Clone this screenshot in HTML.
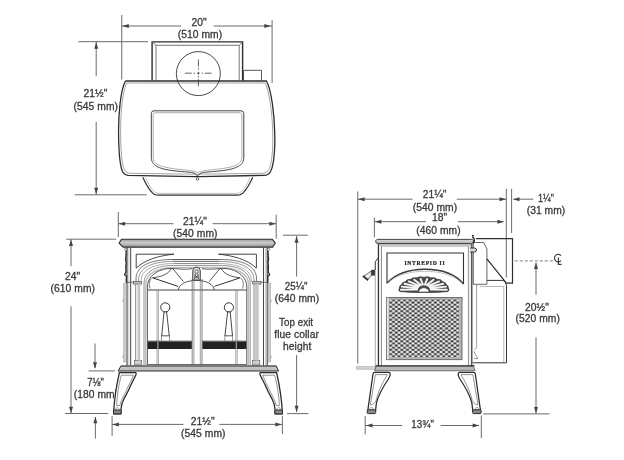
<!DOCTYPE html>
<html><head><meta charset="utf-8"><style>
html,body{margin:0;padding:0;background:#fff;}
svg{display:block;will-change:transform;}
text{font-family:"Liberation Sans",sans-serif;}
</style></head><body>
<svg width="624" height="460" viewBox="0 0 624 460">
<rect width="624" height="460" fill="#fff"/>
<line x1="121.75" y1="15" x2="121.75" y2="79.5" stroke="#5a5a5a" stroke-width="0.9" />
<line x1="272.1" y1="20" x2="272.1" y2="83" stroke="#5a5a5a" stroke-width="0.9" />
<line x1="121.75" y1="26" x2="181" y2="26" stroke="#5a5a5a" stroke-width="0.9" />
<line x1="213.75" y1="26" x2="272.1" y2="26" stroke="#5a5a5a" stroke-width="0.9" />
<polygon points="122.30,26.00 128.80,24.00 128.80,28.00" fill="#444"/>
<polygon points="270.80,26.00 264.30,24.00 264.30,28.00" fill="#444"/>
<text transform="translate(199,26) scale(1.0250,1)" text-anchor="middle" font-size="10.05" letter-spacing="0.05" fill="#3a3a3a" stroke="#3a3a3a" stroke-width="0.3" >20"</text>
<text transform="translate(200,37.8) scale(1.0250,1)" text-anchor="middle" font-size="10.05" letter-spacing="0.05" fill="#3a3a3a" stroke="#3a3a3a" stroke-width="0.3" >(510 mm)</text>
<line x1="78.5" y1="41.7" x2="148" y2="41.7" stroke="#5a5a5a" stroke-width="0.9" />
<line x1="74.8" y1="194.8" x2="146.8" y2="194.8" stroke="#5a5a5a" stroke-width="0.9" />
<line x1="96.2" y1="42" x2="96.2" y2="76.2" stroke="#5a5a5a" stroke-width="0.9" />
<line x1="96.2" y1="122" x2="96.2" y2="194.5" stroke="#5a5a5a" stroke-width="0.9" />
<polygon points="96.20,42.20 94.20,48.70 98.20,48.70" fill="#444"/>
<polygon points="96.20,194.30 94.20,187.80 98.20,187.80" fill="#444"/>
<text transform="translate(95.5,97.2) scale(1.0250,1)" text-anchor="middle" font-size="10.05" letter-spacing="0.05" fill="#3a3a3a" stroke="#3a3a3a" stroke-width="0.3" >21½"</text>
<text transform="translate(95.8,109.6) scale(1.0250,1)" text-anchor="middle" font-size="10.05" letter-spacing="0.05" fill="#3a3a3a" stroke="#3a3a3a" stroke-width="0.3" >(545 mm)</text>
<path d="M152.1,80.5 V41.9 H242.6 V80.5" stroke="#2e2e2e" stroke-width="1.4" fill="none" />
<path d="M152.1,41.9 L156,45.3 V80.5 M242.6,41.9 L239.2,45.3 V80.5 M156,45.3 H239.2" stroke="#666" stroke-width="0.9" fill="none" />
<circle cx="198.35" cy="73.6" r="22" fill="none" stroke="#333" stroke-width="0.9"/>
<path d="M185,73.2 H191.8 M193.6,73.2 H195.1 M197.1,73.2 H199.7 M201.6,73.2 H203.1 M204.9,73.2 H211.6" stroke="#444" stroke-width="0.85" fill="none" />
<path d="M198.4,59.5 V66.6 M198.4,68.2 V69.6 M198.4,71.9 V74.5 M198.4,76.1 V77.5 M198.4,79.2 V86.2" stroke="#444" stroke-width="0.85" fill="none" />
<path d="M243.5,80.5 V70.3 H261.5 V80.5" stroke="#444" stroke-width="0.9" fill="none" />
<path d="M125.4,81 H266.4 C271.5,90 274.5,115 274.8,135 C275,155 273.2,167 270.2,172 Q268.5,175 265,175.3 L200,176.6 M125.4,81 C120.5,90 118.3,115 118.6,135 C118.8,155 120.2,167 122.8,172 Q124.5,175 128,175.3 L195,176.6 L200,176.6" stroke="#2e2e2e" stroke-width="1.3" fill="none" />
<path d="M126.6,83 H265.2 C269.5,92 272.5,115 272.8,135 C273,154 271.4,165 268.6,169.8 Q267,173 263.5,173.3 L200,174.2 M126.6,83 C122.5,92 120.3,115 120.6,135 C120.8,154 122,165 124.6,169.8 Q126.2,173 129.5,173.3 L195,174.2 L200,174.2" stroke="#666" stroke-width="0.6" fill="none" />
<path d="M154,110.8 H241 Q243.8,110.8 243.8,113.6 V157 C243.8,165.5 237,168.8 221,170.8 C210,172 204,172 201,173 L197.5,175.8 L194,173 C191,172 185,172 174,170.8 C158,168.8 151.3,165.5 151.3,157 V113.6 Q151.3,110.8 154,110.8 Z" stroke="#444" stroke-width="1.0" fill="none" />
<path d="M155.6,112.7 H239.4 Q241.9,112.7 241.9,115.2 V157 C241.9,164 235.5,166.8 220.5,168.8 C209,170.2 202,170.2 197.5,172.6 C193,170.2 186,170.2 174.5,168.8 C159.5,166.8 153.2,164 153.2,157 V115.2 Q153.2,112.7 155.6,112.7 Z" stroke="#777" stroke-width="0.6" fill="none" />
<circle cx="197.5" cy="179" r="1.3" fill="none" stroke="#444" stroke-width="0.8"/>
<path d="M142.8,177.2 C145,182 148,188 151.2,191.5 Q153.8,195.2 158.5,195.2 H237 Q241.7,195.2 244.3,191.5 C247.5,188 250.5,182 252.8,177.2" stroke="#2e2e2e" stroke-width="1.2" fill="none" />
<path d="M145.6,177.8 C147.6,182.5 150.2,187.5 153,190.6 Q155.3,193.4 159,193.4 H236.5 Q240.2,193.4 242.5,190.6 C245.3,187.5 247.9,182.5 249.9,177.8" stroke="#999" stroke-width="0.6" fill="none" />
<line x1="118.3" y1="212" x2="118.3" y2="237" stroke="#5a5a5a" stroke-width="0.9" />
<line x1="276.2" y1="214.6" x2="276.2" y2="238.7" stroke="#5a5a5a" stroke-width="0.9" />
<line x1="118.3" y1="223.7" x2="173.4" y2="223.7" stroke="#5a5a5a" stroke-width="0.9" />
<line x1="212.7" y1="223.7" x2="276.2" y2="223.7" stroke="#5a5a5a" stroke-width="0.9" />
<polygon points="118.60,223.70 125.10,221.70 125.10,225.70" fill="#444"/>
<polygon points="275.90,223.70 269.40,221.70 269.40,225.70" fill="#444"/>
<text transform="translate(195,225.0) scale(1.0250,1)" text-anchor="middle" font-size="10.05" letter-spacing="0.05" fill="#3a3a3a" stroke="#3a3a3a" stroke-width="0.3" >21¼"</text>
<text transform="translate(195.3,236.9) scale(1.0250,1)" text-anchor="middle" font-size="10.05" letter-spacing="0.05" fill="#3a3a3a" stroke="#3a3a3a" stroke-width="0.3" >(540 mm)</text>
<line x1="66.2" y1="239.2" x2="116" y2="239.2" stroke="#5a5a5a" stroke-width="0.9" />
<line x1="65.2" y1="413.5" x2="108.3" y2="413.5" stroke="#5a5a5a" stroke-width="0.9" />
<line x1="71" y1="239.5" x2="71" y2="266.2" stroke="#5a5a5a" stroke-width="0.9" />
<line x1="71" y1="306.3" x2="71" y2="413.2" stroke="#5a5a5a" stroke-width="0.9" />
<polygon points="71.00,239.60 69.00,246.10 73.00,246.10" fill="#444"/>
<polygon points="71.00,413.20 69.00,406.70 73.00,406.70" fill="#444"/>
<text transform="translate(72.5,280.3) scale(1.0250,1)" text-anchor="middle" font-size="10.05" letter-spacing="0.05" fill="#3a3a3a" stroke="#3a3a3a" stroke-width="0.3" >24"</text>
<text transform="translate(72.8,292.0) scale(1.0250,1)" text-anchor="middle" font-size="10.05" letter-spacing="0.05" fill="#3a3a3a" stroke="#3a3a3a" stroke-width="0.3" >(610 mm)</text>
<line x1="88.7" y1="370.9" x2="114.9" y2="370.9" stroke="#5a5a5a" stroke-width="0.9" />
<line x1="95" y1="343.5" x2="95" y2="368" stroke="#5a5a5a" stroke-width="0.9" />
<polygon points="95.00,368.80 93.00,362.30 97.00,362.30" fill="#444"/>
<line x1="95.4" y1="417" x2="95.4" y2="438.5" stroke="#5a5a5a" stroke-width="0.9" />
<polygon points="95.40,416.80 93.40,423.30 97.40,423.30" fill="#444"/>
<text transform="translate(95.6,385.8) scale(0.9430,1)" text-anchor="middle" font-size="10.05" letter-spacing="0.05" fill="#3a3a3a" stroke="#3a3a3a" stroke-width="0.3" >7⅛"</text>
<text transform="translate(96,397.8) scale(1.0250,1)" text-anchor="middle" font-size="10.05" letter-spacing="0.05" fill="#3a3a3a" stroke="#3a3a3a" stroke-width="0.3" >(180 mm)</text>
<line x1="112.1" y1="416" x2="112.1" y2="436" stroke="#5a5a5a" stroke-width="0.9" />
<line x1="282.4" y1="415.8" x2="282.4" y2="434" stroke="#5a5a5a" stroke-width="0.9" />
<line x1="112.1" y1="424.4" x2="183.5" y2="424.4" stroke="#5a5a5a" stroke-width="0.9" />
<line x1="219.4" y1="424.4" x2="282.1" y2="424.4" stroke="#5a5a5a" stroke-width="0.9" />
<polygon points="112.40,424.40 118.90,422.40 118.90,426.40" fill="#444"/>
<polygon points="281.80,424.40 275.30,422.40 275.30,426.40" fill="#444"/>
<text transform="translate(202.7,424.9) scale(1.0250,1)" text-anchor="middle" font-size="10.05" letter-spacing="0.05" fill="#3a3a3a" stroke="#3a3a3a" stroke-width="0.3" >21½"</text>
<text transform="translate(203.3,436.7) scale(1.0250,1)" text-anchor="middle" font-size="10.05" letter-spacing="0.05" fill="#3a3a3a" stroke="#3a3a3a" stroke-width="0.3" >(545 mm)</text>
<line x1="283" y1="235.2" x2="307.8" y2="235.2" stroke="#5a5a5a" stroke-width="0.9" />
<line x1="287" y1="413.6" x2="308.5" y2="413.6" stroke="#5a5a5a" stroke-width="0.9" />
<line x1="296.6" y1="236" x2="296.6" y2="276.5" stroke="#5a5a5a" stroke-width="0.9" />
<line x1="296.6" y1="355" x2="296.6" y2="412" stroke="#5a5a5a" stroke-width="0.9" />
<polygon points="296.60,236.20 294.60,242.70 298.60,242.70" fill="#444"/>
<polygon points="296.60,412.20 294.60,405.70 298.60,405.70" fill="#444"/>
<text transform="translate(296.2,290.0) scale(0.9737,1)" text-anchor="middle" font-size="10.05" letter-spacing="0.05" fill="#3a3a3a" stroke="#3a3a3a" stroke-width="0.3" >25¼"</text>
<text transform="translate(296.9,301.9) scale(1.0250,1)" text-anchor="middle" font-size="10.05" letter-spacing="0.05" fill="#3a3a3a" stroke="#3a3a3a" stroke-width="0.3" >(640 mm)</text>
<text transform="translate(296.1,326.0) scale(0.9737,1)" text-anchor="middle" font-size="10.05" letter-spacing="0.05" fill="#3a3a3a" stroke="#3a3a3a" stroke-width="0.3" >Top exit</text>
<text transform="translate(296.6,337.5) scale(1.0250,1)" text-anchor="middle" font-size="10.05" letter-spacing="0.05" fill="#3a3a3a" stroke="#3a3a3a" stroke-width="0.3" >flue collar</text>
<text transform="translate(297.2,350.0) scale(1.0250,1)" text-anchor="middle" font-size="10.05" letter-spacing="0.05" fill="#3a3a3a" stroke="#3a3a3a" stroke-width="0.3" >height</text>
<g><path d="M136.2,254.2 H174 M136.2,254.2 V268.2 M174,254.2 C160,255.5 145,259.5 136.4,268" stroke="#333" stroke-width="0.9" fill="none"/>
<path d="M136.0,282 V279 C136.0,266 150,259.5 172,259.5 H220.60000000000002" stroke="#555" stroke-width="0.8" fill="none"/>
<path d="M138.6,282 V279.5 C138.6,268 152,261.4 173,261.4 H219.60000000000002" stroke="#666" stroke-width="0.7" fill="none"/>
<path d="M141.2,282 V280 C141.2,270 154,263.5 174,263.5 H218.60000000000002" stroke="#777" stroke-width="0.6" fill="none"/>
<path d="M152.5,277.8 C161,277 168,274.5 171.8,268.3" stroke="#444" stroke-width="0.9" fill="none"/>
<path d="M152.5,277.8 L178.2,286.4" stroke="#333" stroke-width="1.0" fill="none"/>
<path d="M172.3,268 L183.4,281.6" stroke="#444" stroke-width="0.9" fill="none"/>
<path d="M178.3,290 C179,284.5 186,280.4 196.3,280.4" stroke="#444" stroke-width="0.9" fill="none"/>
<path d="M151.6,278.2 C149,281 148.6,285.5 150.3,288.5" stroke="#555" stroke-width="0.8" fill="none"/></g>
<g transform="translate(392.6,0) scale(-1,1)"><path d="M136.2,254.2 H174 M136.2,254.2 V268.2 M174,254.2 C160,255.5 145,259.5 136.4,268" stroke="#333" stroke-width="0.9" fill="none"/>
<path d="M136.0,282 V279 C136.0,266 150,259.5 172,259.5 H220.60000000000002" stroke="#555" stroke-width="0.8" fill="none"/>
<path d="M138.6,282 V279.5 C138.6,268 152,261.4 173,261.4 H219.60000000000002" stroke="#666" stroke-width="0.7" fill="none"/>
<path d="M141.2,282 V280 C141.2,270 154,263.5 174,263.5 H218.60000000000002" stroke="#777" stroke-width="0.6" fill="none"/>
<path d="M152.5,277.8 C161,277 168,274.5 171.8,268.3" stroke="#444" stroke-width="0.9" fill="none"/>
<path d="M152.5,277.8 L178.2,286.4" stroke="#333" stroke-width="1.0" fill="none"/>
<path d="M172.3,268 L183.4,281.6" stroke="#444" stroke-width="0.9" fill="none"/>
<path d="M178.3,290 C179,284.5 186,280.4 196.3,280.4" stroke="#444" stroke-width="0.9" fill="none"/>
<path d="M151.6,278.2 C149,281 148.6,285.5 150.3,288.5" stroke="#555" stroke-width="0.8" fill="none"/></g>
<g><path d="M144.0,365 V284 C144.0,271 156,265.4 175,265.4 H197.1" stroke="#777" stroke-width="0.8" fill="none"/>
<path d="M145.7,365 V285 C145.7,273 158,267.3 176,267.3 H197.1" stroke="#bbb" stroke-width="1.3" fill="none"/>
<path d="M147.4,365 V287 C147.4,277 156,270 168,268.5 C178,268.5 186,270 192.5,268.6" stroke="#444" stroke-width="0.9" fill="none"/>
<rect x="133.3" y="281.4" width="8.2" height="2.7" fill="#bdbdbd" stroke="#444" stroke-width="0.6"/>
<rect x="134.4" y="360.5" width="7.2" height="4.4" fill="#cfcfcf" stroke="#555" stroke-width="0.6"/>
<line x1="147.7" y1="290" x2="197.1" y2="290" stroke="#444" stroke-width="1.0"/>
<line x1="157.0" y1="290" x2="157.0" y2="364.5" stroke="#888" stroke-width="0.7"/>
<line x1="158.4" y1="290" x2="158.4" y2="364.5" stroke="#888" stroke-width="0.7"/>
<line x1="192.2" y1="279" x2="192.2" y2="364.5" stroke="#666" stroke-width="0.8"/>
<line x1="193.9" y1="279" x2="193.9" y2="364.5" stroke="#777" stroke-width="0.7"/>
<rect x="147.8" y="341.3" width="44.0" height="7.7" fill="#222"/>
<line x1="157.9" y1="341.2" x2="157.9" y2="349" stroke="#bbb" stroke-width="1.0"/>
<line x1="147.7" y1="340.8" x2="192.5" y2="340.8" stroke="#555" stroke-width="0.5"/>
<circle cx="165.3" cy="307.4" r="4.6" fill="#fff" stroke="#333" stroke-width="1.0"/>
<path d="M164,312 L166.6,312 L169.3,336 L161.7,336 Z" stroke="#333" stroke-width="0.9" fill="#fff"/>
<rect x="161.7" y="336" width="7.6" height="5" fill="#fff" stroke="#555" stroke-width="0.6"/>
<line x1="147.7" y1="364.5" x2="197.1" y2="364.5" stroke="#444" stroke-width="0.8"/></g>
<g transform="translate(394.2,0) scale(-1,1)"><path d="M144.0,365 V284 C144.0,271 156,265.4 175,265.4 H197.1" stroke="#777" stroke-width="0.8" fill="none"/>
<path d="M145.7,365 V285 C145.7,273 158,267.3 176,267.3 H197.1" stroke="#bbb" stroke-width="1.3" fill="none"/>
<path d="M147.4,365 V287 C147.4,277 156,270 168,268.5 C178,268.5 186,270 192.5,268.6" stroke="#444" stroke-width="0.9" fill="none"/>
<rect x="133.3" y="281.4" width="8.2" height="2.7" fill="#bdbdbd" stroke="#444" stroke-width="0.6"/>
<rect x="134.4" y="360.5" width="7.2" height="4.4" fill="#cfcfcf" stroke="#555" stroke-width="0.6"/>
<line x1="147.7" y1="290" x2="197.1" y2="290" stroke="#444" stroke-width="1.0"/>
<line x1="157.0" y1="290" x2="157.0" y2="364.5" stroke="#888" stroke-width="0.7"/>
<line x1="158.4" y1="290" x2="158.4" y2="364.5" stroke="#888" stroke-width="0.7"/>
<line x1="192.2" y1="279" x2="192.2" y2="364.5" stroke="#666" stroke-width="0.8"/>
<line x1="193.9" y1="279" x2="193.9" y2="364.5" stroke="#777" stroke-width="0.7"/>
<rect x="147.8" y="341.3" width="44.0" height="7.7" fill="#222"/>
<line x1="157.9" y1="341.2" x2="157.9" y2="349" stroke="#bbb" stroke-width="1.0"/>
<line x1="147.7" y1="340.8" x2="192.5" y2="340.8" stroke="#555" stroke-width="0.5"/>
<circle cx="165.3" cy="307.4" r="4.6" fill="#fff" stroke="#333" stroke-width="1.0"/>
<path d="M164,312 L166.6,312 L169.3,336 L161.7,336 Z" stroke="#333" stroke-width="0.9" fill="#fff"/>
<rect x="161.7" y="336" width="7.6" height="5" fill="#fff" stroke="#555" stroke-width="0.6"/>
<line x1="147.7" y1="364.5" x2="197.1" y2="364.5" stroke="#444" stroke-width="0.8"/></g>
<rect x="137.5" y="284.2" width="2.70" height="76.3" fill="#c6c6c6"/>
<line x1="135.7" y1="284.2" x2="135.7" y2="360.5" stroke="#7a7a7a" stroke-width="0.9"/>
<rect x="255.1" y="284.2" width="3.60" height="76.3" fill="#c6c6c6"/>
<line x1="254.0" y1="284.2" x2="254.0" y2="360.5" stroke="#7a7a7a" stroke-width="0.9"/>
<g><line x1="127.0" y1="247.5" x2="127.0" y2="365.5" stroke="#3a3a3a" stroke-width="1.1"/>
<line x1="128.8" y1="247.5" x2="128.8" y2="365.5" stroke="#aaa" stroke-width="0.6"/>
<line x1="130.7" y1="247.5" x2="130.7" y2="365.5" stroke="#444" stroke-width="1.0"/>
<g transform="translate(2.0,0)">
<path d="M124.6,250.5 C123.2,253 124.6,255 123.8,257.5 C123,260 124.8,262 124,265 C123.3,268 124.5,270 123.6,272.5 L122.6,274.8 L124.6,276.5 C124,279 124.2,281 124.5,283" stroke="#2a2a2a" stroke-width="1.3" fill="none"/>
</g>
<circle cx="125.8" cy="249.4" r="1.2" fill="#fff" stroke="#444" stroke-width="0.7"/>
<rect x="123.4" y="283" width="2.8" height="79" fill="#cdcdcd" stroke="#999" stroke-width="0.4"/>
<path d="M123.4,299.5 q-1.8,1 0,2.2 M123.4,355.5 q-1.8,1 0,2.2" stroke="#666" stroke-width="0.6" fill="none"/>
<line x1="127.0" y1="282.3" x2="133.3" y2="282.3" stroke="#555" stroke-width="0.8"/></g>
<g transform="translate(394.2,0) scale(-1,1)"><line x1="127.0" y1="247.5" x2="127.0" y2="365.5" stroke="#3a3a3a" stroke-width="1.1"/>
<line x1="128.8" y1="247.5" x2="128.8" y2="365.5" stroke="#aaa" stroke-width="0.6"/>
<line x1="130.7" y1="247.5" x2="130.7" y2="365.5" stroke="#444" stroke-width="1.0"/>
<g transform="translate(2.0,0)">
<path d="M124.6,250.5 C123.2,253 124.6,255 123.8,257.5 C123,260 124.8,262 124,265 C123.3,268 124.5,270 123.6,272.5 L122.6,274.8 L124.6,276.5 C124,279 124.2,281 124.5,283" stroke="#2a2a2a" stroke-width="1.3" fill="none"/>
</g>
<circle cx="125.8" cy="249.4" r="1.2" fill="#fff" stroke="#444" stroke-width="0.7"/>
<rect x="123.4" y="283" width="2.8" height="79" fill="#cdcdcd" stroke="#999" stroke-width="0.4"/>
<path d="M123.4,299.5 q-1.8,1 0,2.2 M123.4,355.5 q-1.8,1 0,2.2" stroke="#666" stroke-width="0.6" fill="none"/>
<line x1="127.0" y1="282.3" x2="133.3" y2="282.3" stroke="#555" stroke-width="0.8"/></g>
<defs><linearGradient id="slabg" x1="0" y1="0" x2="0" y2="1"><stop offset="0" stop-color="#9a9a9a"/><stop offset="0.45" stop-color="#cdcdcd"/><stop offset="0.6" stop-color="#bababa"/><stop offset="1" stop-color="#989898"/></linearGradient></defs>
<path d="M121.4,239.2 H272.4 L275.3,243.1 L272.6,247.1 H123.1 L119.1,243.1 Z" stroke="#2e2e2e" stroke-width="1.1" fill="url(#slabg)" />
<path d="M192.7,280 V271 A3.8,3.9 0 0 1 200.3,271 V280 Z" fill="#d4d4d4" stroke="#3a3a3a" stroke-width="0.9"/>
<circle cx="196.5" cy="271.6" r="1.6" fill="#f2f2f2" stroke="#444" stroke-width="0.7"/>
<path d="M195.2,273.5 L194.6,279 M197.8,273.5 L198.4,279 M195.5,275.5 L197.5,278 M197.5,275.5 L195.5,278" stroke="#333" stroke-width="0.8" fill="none"/>
<defs><linearGradient id="baseg" x1="0" y1="0" x2="0" y2="1"><stop offset="0" stop-color="#8a8a8a"/><stop offset="0.3" stop-color="#c4c4c4"/><stop offset="1" stop-color="#bcbcbc"/></linearGradient></defs>
<path d="M121.0,365.9 H276.2 L278.6,371 H118.0 Z" stroke="#2e2e2e" stroke-width="1.0" fill="url(#baseg)" />
<g><path d="M119.4,372.6 H135.6 Q136.4,372.8 136.1,374.2 C133.8,379.5 132.5,381.5 130.4,386 C128,392 125.5,396 123.9,399 C122.3,402 121.3,405.5 121.0,409 L121,413.8 H113.6 L113.8,410 C114.5,398 116.6,385 119.4,372.6 Z" stroke="#2a2a2a" stroke-width="1.3" fill="#fff"/><path d="M121.4,375.2 H133.3 C131.5,380 130,383 128.4,386 C126,391.5 123.8,395.5 122.3,398.5 C121,401 120.2,403.5 119.8,405.5 H116.6 C117.3,394 119.0,383 121.4,375.2 Z" stroke="#666" stroke-width="0.7" fill="none"/><rect x="113.5" y="410.0" width="7.6" height="3.9" rx="1" fill="#8a8a8a" stroke="#2a2a2a" stroke-width="1.0"/><path d="M115.2,410.0 Q117.2,404.5 119.6,410.0" stroke="#666" stroke-width="0.6" fill="none"/></g>
<g transform="translate(396.0,0) scale(-1,1)"><path d="M119.4,372.6 H135.6 Q136.4,372.8 136.1,374.2 C133.8,379.5 132.5,381.5 130.4,386 C128,392 125.5,396 123.9,399 C122.3,402 121.3,405.5 121.0,409 L121,413.8 H113.6 L113.8,410 C114.5,398 116.6,385 119.4,372.6 Z" stroke="#2a2a2a" stroke-width="1.3" fill="#fff"/><path d="M121.4,375.2 H133.3 C131.5,380 130,383 128.4,386 C126,391.5 123.8,395.5 122.3,398.5 C121,401 120.2,403.5 119.8,405.5 H116.6 C117.3,394 119.0,383 121.4,375.2 Z" stroke="#666" stroke-width="0.7" fill="none"/><rect x="113.5" y="410.0" width="7.6" height="3.9" rx="1" fill="#8a8a8a" stroke="#2a2a2a" stroke-width="1.0"/><path d="M115.2,410.0 Q117.2,404.5 119.6,410.0" stroke="#666" stroke-width="0.6" fill="none"/></g>
<line x1="357.8" y1="191.5" x2="357.8" y2="363.5" stroke="#5a5a5a" stroke-width="0.9" />
<path d="M356.4,366.6 H375.4 V369.2 H356.4 Z" stroke="#999" stroke-width="0.6" fill="#d8d8d8" />
<line x1="506.3" y1="188.8" x2="506.3" y2="277.5" stroke="#5a5a5a" stroke-width="0.9" />
<line x1="511.6" y1="188.8" x2="511.6" y2="233" stroke="#5a5a5a" stroke-width="0.9" />
<line x1="357.8" y1="199.2" x2="412.5" y2="199.2" stroke="#5a5a5a" stroke-width="0.9" />
<line x1="456.7" y1="199.2" x2="506.3" y2="199.2" stroke="#5a5a5a" stroke-width="0.9" />
<polygon points="358.10,199.20 364.60,197.20 364.60,201.20" fill="#444"/>
<polygon points="506.00,199.20 499.50,197.20 499.50,201.20" fill="#444"/>
<text transform="translate(434.6,198.0) scale(1.0250,1)" text-anchor="middle" font-size="10.05" letter-spacing="0.05" fill="#3a3a3a" stroke="#3a3a3a" stroke-width="0.3" >21¼"</text>
<text transform="translate(434.9,210.6) scale(1.0250,1)" text-anchor="middle" font-size="10.05" letter-spacing="0.05" fill="#3a3a3a" stroke="#3a3a3a" stroke-width="0.3" >(540 mm)</text>
<line x1="374.4" y1="217.5" x2="374.4" y2="237.2" stroke="#5a5a5a" stroke-width="0.9" />
<line x1="374.6" y1="221.7" x2="426" y2="221.7" stroke="#5a5a5a" stroke-width="0.9" />
<line x1="457.9" y1="221.7" x2="503.5" y2="221.7" stroke="#5a5a5a" stroke-width="0.9" />
<polygon points="374.90,221.70 381.40,219.70 381.40,223.70" fill="#444"/>
<polygon points="503.90,221.70 497.40,219.70 497.40,223.70" fill="#444"/>
<text transform="translate(439.7,220.9) scale(1.0250,1)" text-anchor="middle" font-size="10.05" letter-spacing="0.05" fill="#3a3a3a" stroke="#3a3a3a" stroke-width="0.3" >18"</text>
<text transform="translate(438.5,233.6) scale(1.0250,1)" text-anchor="middle" font-size="10.05" letter-spacing="0.05" fill="#3a3a3a" stroke="#3a3a3a" stroke-width="0.3" >(460 mm)</text>
<line x1="513.5" y1="199.2" x2="533.3" y2="199.2" stroke="#5a5a5a" stroke-width="0.9" />
<polygon points="513.00,199.20 519.50,197.20 519.50,201.20" fill="#444"/>
<text transform="translate(538.0,202.0) scale(0.9020,1)" text-anchor="start" font-size="10.05" letter-spacing="0.05" fill="#3a3a3a" stroke="#3a3a3a" stroke-width="0.3" >1¼"</text>
<text transform="translate(546,213.6) scale(1.0250,1)" text-anchor="middle" font-size="10.05" letter-spacing="0.05" fill="#3a3a3a" stroke="#3a3a3a" stroke-width="0.3" >(31 mm)</text>
<line x1="514.7" y1="260.9" x2="553.3" y2="260.9" stroke="#666" stroke-width="0.8" stroke-dasharray="3.2,1.8"/>
<path d="M561.0,255.6 A3.7,3.8 0 1 0 561.0,260.6" stroke="#3a3a3a" stroke-width="1.15" fill="none"/>
<line x1="558.4" y1="257.4" x2="558.4" y2="264.9" stroke="#3a3a3a" stroke-width="1.15" />
<line x1="557.9" y1="264.4" x2="561.6" y2="264.4" stroke="#3a3a3a" stroke-width="1.2" />
<line x1="536" y1="262.6" x2="536" y2="294.8" stroke="#5a5a5a" stroke-width="0.9" />
<line x1="536" y1="337.4" x2="536" y2="413.6" stroke="#5a5a5a" stroke-width="0.9" />
<polygon points="536.00,262.60 534.00,269.10 538.00,269.10" fill="#444"/>
<polygon points="536.00,413.60 534.00,407.10 538.00,407.10" fill="#444"/>
<text transform="translate(537.0,310.6) scale(1.0250,1)" text-anchor="middle" font-size="10.05" letter-spacing="0.05" fill="#3a3a3a" stroke="#3a3a3a" stroke-width="0.3" >20½"</text>
<text transform="translate(537.7,321.8) scale(1.0250,1)" text-anchor="middle" font-size="10.05" letter-spacing="0.05" fill="#3a3a3a" stroke="#3a3a3a" stroke-width="0.3" >(520 mm)</text>
<line x1="483.3" y1="413.9" x2="549.6" y2="413.9" stroke="#5a5a5a" stroke-width="0.9" />
<line x1="365.2" y1="416" x2="365.2" y2="434.3" stroke="#5a5a5a" stroke-width="0.9" />
<line x1="481.3" y1="415.5" x2="481.3" y2="438" stroke="#5a5a5a" stroke-width="0.9" />
<line x1="365.2" y1="425.5" x2="402.3" y2="425.5" stroke="#5a5a5a" stroke-width="0.9" />
<line x1="440.6" y1="425.5" x2="479" y2="425.5" stroke="#5a5a5a" stroke-width="0.9" />
<polygon points="366.00,425.50 372.50,423.50 372.50,427.50" fill="#444"/>
<polygon points="479.20,425.50 472.70,423.50 472.70,427.50" fill="#444"/>
<text transform="translate(422.6,427.7) scale(0.9737,1)" text-anchor="middle" font-size="10.05" letter-spacing="0.05" fill="#3a3a3a" stroke="#3a3a3a" stroke-width="0.3" >13¾"</text>
<path d="M476.0,238.6 H512.5 V283.2 H506.6" stroke="#2e2e2e" stroke-width="1.2" fill="none" />
<path d="M473.3,284.3 V242.5 H483.7 L486.9,249 V284.3 H473.3" stroke="#555" stroke-width="0.9" fill="none" />
<path d="M486.9,258.8 L506.6,283.4" stroke="#2a2a2a" stroke-width="1.2" fill="none" />
<path d="M486.9,280.4 H503 Q506.3,281.5 506.5,286 V362.8 H472.7" stroke="#333" stroke-width="1.0" fill="none" />
<path d="M480,286.5 H503.8 V362.5" stroke="#888" stroke-width="0.6" fill="none" />
<path d="M476.6,284.5 V347.8 L474.2,349.6" stroke="#888" stroke-width="0.8" fill="none" />
<path d="M473.8,351.3 L477.8,358.6 L473.8,358.6" stroke="#666" stroke-width="0.7" fill="none" />
<line x1="378.4" y1="244" x2="378.4" y2="366" stroke="#2e2e2e" stroke-width="1.2" />
<line x1="380.0" y1="246" x2="380.0" y2="366" stroke="#c4c4c4" stroke-width="0.5" />
<line x1="381.5" y1="246" x2="381.5" y2="366" stroke="#777" stroke-width="0.8" />
<line x1="468.4" y1="246" x2="468.4" y2="366" stroke="#777" stroke-width="0.8" />
<line x1="470.1" y1="246" x2="470.1" y2="366" stroke="#c4c4c4" stroke-width="0.5" />
<line x1="471.8" y1="244" x2="471.8" y2="366" stroke="#2e2e2e" stroke-width="1.2" />
<line x1="378.4" y1="245.0" x2="471.8" y2="245.0" stroke="#666" stroke-width="0.8" />
<line x1="381.5" y1="246.6" x2="468.4" y2="246.6" stroke="#aaa" stroke-width="0.6" />
<path d="M377.5,239.4 H471.5 Q473.8,239.6 473.7,241.4 Q473.5,243.3 471.5,243.5 H377.6 Q375.6,243.3 375.6,241.4 Q375.7,239.6 377.5,239.4 Z" stroke="#333" stroke-width="0.9" fill="#bdbdbd" />
<line x1="376.5" y1="240.8" x2="473" y2="240.8" stroke="#e0e0e0" stroke-width="0.8" />
<path d="M378.2,257.8 L375.3,261.8 V366" stroke="#888" stroke-width="0.7" fill="none" />
<path d="M378.2,257.8 L375.3,261.8 V270" stroke="#444" stroke-width="0.9" fill="none" />
<path d="M371.3,271.0 L371.3,275.4 L367.8,279.6 L363.4,276.4 Z" stroke="#444" stroke-width="0.8" fill="#f0f0f0" />
<path d="M362.9,276.0 L368.2,280.2" stroke="#333" stroke-width="1.8" fill="none" />
<rect x="371.2" y="269.8" width="3.7" height="5.8" fill="#3a3a3a"/>
<path d="M470.2,248 H474.6 Q476.6,248.2 476.5,250 Q476.4,252 474.4,252 H470.2" stroke="#333" stroke-width="1.0" fill="#d8d8d8" />
<circle cx="472.9" cy="235.8" r="0.95" fill="#222"/>
<path d="M472.4,237.2 C474.8,238.4 475.2,241 472.8,243.2" stroke="#222" stroke-width="1.3" fill="none" />
<path d="M387.0,283.5 V253 H463.5 V284" stroke="#333" stroke-width="1.1" fill="none" />
<path d="M387.0,283 C396,273.5 410,269.2 425,269.2 C440,269.2 455,273.5 463.5,284" stroke="#3a3a3a" stroke-width="1.5" fill="none" />
<path d="M388.3,282.3 C397,274.5 411,271.3 425,271.3 C439,271.3 453,274.5 462.3,283.2" stroke="#999" stroke-width="0.6" fill="none" />
<text x="424.9" y="265.2" text-anchor="middle" style="font-family:&quot;Liberation Serif&quot;,serif;font-weight:bold;font-size:5.6px;letter-spacing:0.72px" fill="#222" stroke="#222" stroke-width="0.2">INTREPID II</text>
<path d="M399.80,291.51 Q397.80,289.78 399.71,288.01 Q398.78,285.83 401.61,284.64 Q401.83,282.18 405.35,281.68 Q406.69,279.15 410.61,279.37 Q412.97,276.98 416.97,277.90 Q420.15,275.84 423.90,277.40 Q427.65,275.84 430.83,277.90 Q434.83,276.98 437.19,279.37 Q441.11,279.15 442.45,281.68 Q445.97,282.18 446.19,284.64 Q449.02,285.83 448.09,288.01 Q450.00,289.78 448.00,291.51 Q435.9,292.8 423.9,292.20000000000005 Q411.9,292.8 399.80,291.51 Z" fill="#4a4a4a" stroke="#333" stroke-width="0.8"/>
<path d="M417.10,289.67 L400.90,289.74 M417.36,288.24 L401.76,286.64 M418.15,286.93 L404.45,283.78 M419.42,285.84 L408.74,281.40 M421.05,285.06 L414.27,279.70 M422.92,284.65 L420.60,278.81 M424.88,284.65 L427.20,278.81 M426.75,285.06 L433.53,279.70 M428.38,285.84 L439.06,281.40 M429.65,286.93 L443.35,283.78 M430.44,288.24 L446.04,286.64 M430.70,289.67 L446.90,289.74 " stroke="#f4f4f4" stroke-width="1.9" stroke-linecap="round" fill="none"/>
<path d="M418.5,292.20000000000005 A5.4,4.6 0 0 1 429.29999999999995,292.20000000000005 Z" fill="#fff" stroke="#333" stroke-width="0.9"/>
<defs><pattern id="mesh" x="390.65" y="300.4" width="5.59" height="4.3" patternUnits="userSpaceOnUse"><rect width="5.59" height="4.3" fill="#9a9a9a"/><ellipse cx="0" cy="0" rx="1.72" ry="1.3" fill="#f7f7f7"/><ellipse cx="5.59" cy="0" rx="1.72" ry="1.3" fill="#f7f7f7"/><ellipse cx="0" cy="4.3" rx="1.72" ry="1.3" fill="#f7f7f7"/><ellipse cx="5.59" cy="4.3" rx="1.72" ry="1.3" fill="#f7f7f7"/><ellipse cx="2.795" cy="2.15" rx="1.72" ry="1.3" fill="#f7f7f7"/><ellipse cx="2.795" cy="0" rx="1.55" ry="1.18" fill="#3e3e3e"/><ellipse cx="2.795" cy="4.3" rx="1.55" ry="1.18" fill="#3e3e3e"/><ellipse cx="0" cy="2.15" rx="1.55" ry="1.18" fill="#3e3e3e"/><ellipse cx="5.59" cy="2.15" rx="1.55" ry="1.18" fill="#3e3e3e"/></pattern></defs>
<rect x="386.4" y="297.4" width="75.6" height="62.3" fill="#b4b4b4" stroke="#555" stroke-width="0.8"/>
<rect x="386.8" y="297.8" width="2.1" height="61.5" fill="#e2e2e2"/>
<rect x="388.9" y="298.9" width="69.9" height="58.3" fill="url(#mesh)"/>
<line x1="375.5" y1="365.9" x2="474.5" y2="365.9" stroke="#222" stroke-width="1.2" />
<path d="M376,366.4 H473.6 L475,370.8 H374.6 Z" stroke="#444" stroke-width="0.7" fill="#b8b8b8" />
<g><path d="M374.6,372.3 Q373.2,372.3 373,374 L367.8,410.3 H375.6 L376.4,403 C379,393 385,384 388.4,379 Q390.4,376 390.2,374 Q390,372.3 388.5,372.3 Z" stroke="#2a2a2a" stroke-width="1.25" fill="#fff"/><path d="M375.4,374.6 H387.4 C384,380 378.5,390 376,400.8 L372.6,404.5 H370.4 Z" stroke="#666" stroke-width="0.7" fill="none"/><rect x="367.2" y="409.8" width="8.5" height="3.8" rx="1" fill="#8a8a8a" stroke="#2a2a2a" stroke-width="1.0"/><path d="M369.2,409.8 Q371.4,404.6 373.8,409.8" stroke="#666" stroke-width="0.6" fill="none"/></g>
<g transform="translate(848.3,0) scale(-1,1)"><path d="M374.6,372.3 Q373.2,372.3 373,374 L367.8,410.3 H375.6 L376.4,403 C379,393 385,384 388.4,379 Q390.4,376 390.2,374 Q390,372.3 388.5,372.3 Z" stroke="#2a2a2a" stroke-width="1.25" fill="#fff"/><path d="M375.4,374.6 H387.4 C384,380 378.5,390 376,400.8 L372.6,404.5 H370.4 Z" stroke="#666" stroke-width="0.7" fill="none"/><rect x="367.2" y="409.8" width="8.5" height="3.8" rx="1" fill="#8a8a8a" stroke="#2a2a2a" stroke-width="1.0"/><path d="M369.2,409.8 Q371.4,404.6 373.8,409.8" stroke="#666" stroke-width="0.6" fill="none"/></g>
</svg></body></html>
